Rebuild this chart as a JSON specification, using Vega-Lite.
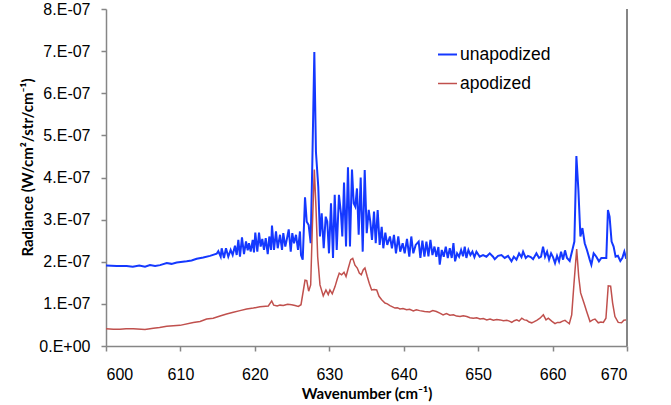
{
  "$schema": "https://vega.github.io/schema/vega-lite/v6.json",
  "autosize": {"type": "none"},
  "width": 521,
  "height": 337,
  "padding": {"left": 106, "top": 9, "right": 44, "bottom": 59},
  "background": "white",
  "config": {"view": {"stroke": null}, "font": "Liberation Sans"},
  "data": {"values": [
    {"w":600.00,"r":1.91e-7,"s":"unapodized"},{"w":601.44,"r":1.90e-7,"s":"unapodized"},{"w":602.78,"r":1.90e-7,"s":"unapodized"},{"w":603.60,"r":1.88e-7,"s":"unapodized"},{"w":604.47,"r":1.91e-7,"s":"unapodized"},{"w":605.24,"r":1.88e-7,"s":"unapodized"},{"w":605.91,"r":1.92e-7,"s":"unapodized"},{"w":606.60,"r":1.90e-7,"s":"unapodized"},{"w":607.26,"r":1.92e-7,"s":"unapodized"},{"w":608.16,"r":1.97e-7,"s":"unapodized"},{"w":608.80,"r":1.95e-7,"s":"unapodized"},{"w":609.50,"r":1.98e-7,"s":"unapodized"},{"w":610.84,"r":2.01e-7,"s":"unapodized"},{"w":611.50,"r":2.03e-7,"s":"unapodized"},{"w":612.19,"r":2.07e-7,"s":"unapodized"},{"w":613.07,"r":2.10e-7,"s":"unapodized"},{"w":613.97,"r":2.14e-7,"s":"unapodized"},{"w":614.87,"r":2.19e-7,"s":"unapodized"},{"w":615.09,"r":2.25e-7,"s":"unapodized"},{"w":615.41,"r":2.12e-7,"s":"unapodized"},{"w":615.54,"r":2.32e-7,"s":"unapodized"},{"w":615.85,"r":2.09e-7,"s":"unapodized"},{"w":616.12,"r":2.32e-7,"s":"unapodized"},{"w":616.43,"r":2.12e-7,"s":"unapodized"},{"w":616.75,"r":2.28e-7,"s":"unapodized"},{"w":617.02,"r":2.16e-7,"s":"unapodized"},{"w":617.33,"r":2.38e-7,"s":"unapodized"},{"w":617.56,"r":2.16e-7,"s":"unapodized"},{"w":617.78,"r":2.52e-7,"s":"unapodized"},{"w":618.00,"r":2.12e-7,"s":"unapodized"},{"w":618.27,"r":2.58e-7,"s":"unapodized"},{"w":618.54,"r":2.18e-7,"s":"unapodized"},{"w":618.81,"r":2.48e-7,"s":"unapodized"},{"w":619.04,"r":2.27e-7,"s":"unapodized"},{"w":619.21,"r":2.44e-7,"s":"unapodized"},{"w":619.44,"r":2.24e-7,"s":"unapodized"},{"w":619.71,"r":2.52e-7,"s":"unapodized"},{"w":619.88,"r":2.22e-7,"s":"unapodized"},{"w":620.06,"r":2.69e-7,"s":"unapodized"},{"w":620.33,"r":2.24e-7,"s":"unapodized"},{"w":620.56,"r":2.69e-7,"s":"unapodized"},{"w":620.78,"r":2.36e-7,"s":"unapodized"},{"w":621.00,"r":2.54e-7,"s":"unapodized"},{"w":621.23,"r":2.28e-7,"s":"unapodized"},{"w":621.46,"r":2.56e-7,"s":"unapodized"},{"w":621.73,"r":2.18e-7,"s":"unapodized"},{"w":621.94,"r":2.60e-7,"s":"unapodized"},{"w":622.17,"r":2.28e-7,"s":"unapodized"},{"w":622.30,"r":2.86e-7,"s":"unapodized"},{"w":622.57,"r":2.28e-7,"s":"unapodized"},{"w":622.84,"r":2.72e-7,"s":"unapodized"},{"w":623.07,"r":2.32e-7,"s":"unapodized"},{"w":623.38,"r":2.64e-7,"s":"unapodized"},{"w":623.65,"r":2.28e-7,"s":"unapodized"},{"w":623.82,"r":2.68e-7,"s":"unapodized"},{"w":624.09,"r":2.36e-7,"s":"unapodized"},{"w":624.28,"r":2.52e-7,"s":"unapodized"},{"w":624.55,"r":2.77e-7,"s":"unapodized"},{"w":624.82,"r":2.24e-7,"s":"unapodized"},{"w":625.03,"r":2.68e-7,"s":"unapodized"},{"w":625.26,"r":2.44e-7,"s":"unapodized"},{"w":625.53,"r":2.64e-7,"s":"unapodized"},{"w":625.80,"r":2.28e-7,"s":"unapodized"},{"w":626.06,"r":2.72e-7,"s":"unapodized"},{"w":626.20,"r":2.16e-7,"s":"unapodized"},{"w":626.43,"r":2.05e-7,"s":"unapodized"},{"w":626.74,"r":3.53e-7,"s":"unapodized"},{"w":626.97,"r":2.95e-7,"s":"unapodized"},{"w":627.23,"r":2.87e-7,"s":"unapodized"},{"w":627.50,"r":2.44e-7,"s":"unapodized"},{"w":627.72,"r":4.34e-7,"s":"unapodized"},{"w":627.99,"r":6.98e-7,"s":"unapodized"},{"w":628.21,"r":4.60e-7,"s":"unapodized"},{"w":628.52,"r":3.78e-7,"s":"unapodized"},{"w":628.75,"r":2.60e-7,"s":"unapodized"},{"w":628.98,"r":3.15e-7,"s":"unapodized"},{"w":629.25,"r":2.32e-7,"s":"unapodized"},{"w":629.52,"r":3.07e-7,"s":"unapodized"},{"w":629.73,"r":2.95e-7,"s":"unapodized"},{"w":629.96,"r":2.20e-7,"s":"unapodized"},{"w":630.23,"r":3.39e-7,"s":"unapodized"},{"w":630.50,"r":2.09e-7,"s":"unapodized"},{"w":630.73,"r":3.59e-7,"s":"unapodized"},{"w":631.00,"r":2.28e-7,"s":"unapodized"},{"w":631.30,"r":3.59e-7,"s":"unapodized"},{"w":631.57,"r":3.15e-7,"s":"unapodized"},{"w":631.75,"r":2.60e-7,"s":"unapodized"},{"w":631.98,"r":3.88e-7,"s":"unapodized"},{"w":632.25,"r":2.36e-7,"s":"unapodized"},{"w":632.51,"r":4.24e-7,"s":"unapodized"},{"w":632.78,"r":2.36e-7,"s":"unapodized"},{"w":633.05,"r":4.19e-7,"s":"unapodized"},{"w":633.28,"r":3.39e-7,"s":"unapodized"},{"w":633.49,"r":3.31e-7,"s":"unapodized"},{"w":633.72,"r":3.74e-7,"s":"unapodized"},{"w":633.95,"r":2.64e-7,"s":"unapodized"},{"w":634.22,"r":4.00e-7,"s":"unapodized"},{"w":634.49,"r":2.24e-7,"s":"unapodized"},{"w":634.76,"r":4.18e-7,"s":"unapodized"},{"w":635.03,"r":2.68e-7,"s":"unapodized"},{"w":635.30,"r":3.23e-7,"s":"unapodized"},{"w":635.51,"r":2.95e-7,"s":"unapodized"},{"w":635.74,"r":2.52e-7,"s":"unapodized"},{"w":636.01,"r":3.19e-7,"s":"unapodized"},{"w":636.24,"r":2.44e-7,"s":"unapodized"},{"w":636.50,"r":3.23e-7,"s":"unapodized"},{"w":636.77,"r":2.40e-7,"s":"unapodized"},{"w":637.04,"r":2.83e-7,"s":"unapodized"},{"w":637.26,"r":2.32e-7,"s":"unapodized"},{"w":637.53,"r":2.69e-7,"s":"unapodized"},{"w":637.79,"r":2.40e-7,"s":"unapodized"},{"w":638.15,"r":2.60e-7,"s":"unapodized"},{"w":638.42,"r":2.32e-7,"s":"unapodized"},{"w":638.69,"r":2.64e-7,"s":"unapodized"},{"w":638.96,"r":2.20e-7,"s":"unapodized"},{"w":639.27,"r":2.60e-7,"s":"unapodized"},{"w":639.53,"r":2.24e-7,"s":"unapodized"},{"w":639.86,"r":2.44e-7,"s":"unapodized"},{"w":640.13,"r":2.20e-7,"s":"unapodized"},{"w":640.44,"r":2.54e-7,"s":"unapodized"},{"w":640.75,"r":2.12e-7,"s":"unapodized"},{"w":641.02,"r":2.60e-7,"s":"unapodized"},{"w":641.29,"r":2.20e-7,"s":"unapodized"},{"w":641.61,"r":2.40e-7,"s":"unapodized"},{"w":642.01,"r":2.48e-7,"s":"unapodized"},{"w":642.24,"r":2.09e-7,"s":"unapodized"},{"w":642.51,"r":2.50e-7,"s":"unapodized"},{"w":642.78,"r":2.12e-7,"s":"unapodized"},{"w":643.05,"r":2.48e-7,"s":"unapodized"},{"w":643.32,"r":2.13e-7,"s":"unapodized"},{"w":643.59,"r":2.52e-7,"s":"unapodized"},{"w":643.86,"r":2.16e-7,"s":"unapodized"},{"w":644.13,"r":2.36e-7,"s":"unapodized"},{"w":644.39,"r":2.12e-7,"s":"unapodized"},{"w":644.66,"r":2.35e-7,"s":"unapodized"},{"w":644.84,"r":1.93e-7,"s":"unapodized"},{"w":645.11,"r":2.28e-7,"s":"unapodized"},{"w":645.38,"r":2.12e-7,"s":"unapodized"},{"w":645.65,"r":2.36e-7,"s":"unapodized"},{"w":645.92,"r":2.09e-7,"s":"unapodized"},{"w":646.19,"r":2.32e-7,"s":"unapodized"},{"w":646.45,"r":2.09e-7,"s":"unapodized"},{"w":646.68,"r":2.44e-7,"s":"unapodized"},{"w":646.90,"r":2.01e-7,"s":"unapodized"},{"w":647.17,"r":2.20e-7,"s":"unapodized"},{"w":647.44,"r":2.12e-7,"s":"unapodized"},{"w":647.71,"r":2.28e-7,"s":"unapodized"},{"w":647.97,"r":2.13e-7,"s":"unapodized"},{"w":648.20,"r":2.36e-7,"s":"unapodized"},{"w":648.42,"r":2.09e-7,"s":"unapodized"},{"w":648.69,"r":2.28e-7,"s":"unapodized"},{"w":648.96,"r":2.16e-7,"s":"unapodized"},{"w":649.23,"r":2.24e-7,"s":"unapodized"},{"w":649.50,"r":2.11e-7,"s":"unapodized"},{"w":649.77,"r":2.24e-7,"s":"unapodized"},{"w":650.21,"r":2.12e-7,"s":"unapodized"},{"w":650.66,"r":2.16e-7,"s":"unapodized"},{"w":651.11,"r":2.12e-7,"s":"unapodized"},{"w":651.56,"r":2.20e-7,"s":"unapodized"},{"w":652.00,"r":2.12e-7,"s":"unapodized"},{"w":652.23,"r":2.06e-7,"s":"unapodized"},{"w":652.68,"r":2.14e-7,"s":"unapodized"},{"w":653.13,"r":2.16e-7,"s":"unapodized"},{"w":653.57,"r":2.09e-7,"s":"unapodized"},{"w":654.02,"r":2.14e-7,"s":"unapodized"},{"w":654.48,"r":2.01e-7,"s":"unapodized"},{"w":654.79,"r":2.12e-7,"s":"unapodized"},{"w":655.15,"r":2.05e-7,"s":"unapodized"},{"w":655.50,"r":2.20e-7,"s":"unapodized"},{"w":655.82,"r":2.11e-7,"s":"unapodized"},{"w":656.04,"r":2.24e-7,"s":"unapodized"},{"w":656.40,"r":2.09e-7,"s":"unapodized"},{"w":656.70,"r":2.14e-7,"s":"unapodized"},{"w":657.07,"r":2.11e-7,"s":"unapodized"},{"w":657.38,"r":2.06e-7,"s":"unapodized"},{"w":657.83,"r":2.20e-7,"s":"unapodized"},{"w":658.18,"r":2.09e-7,"s":"unapodized"},{"w":658.45,"r":2.12e-7,"s":"unapodized"},{"w":658.72,"r":2.36e-7,"s":"unapodized"},{"w":658.99,"r":2.12e-7,"s":"unapodized"},{"w":659.26,"r":2.24e-7,"s":"unapodized"},{"w":659.53,"r":2.05e-7,"s":"unapodized"},{"w":659.80,"r":2.20e-7,"s":"unapodized"},{"w":660.06,"r":2.11e-7,"s":"unapodized"},{"w":660.33,"r":1.97e-7,"s":"unapodized"},{"w":660.60,"r":2.14e-7,"s":"unapodized"},{"w":660.87,"r":2.01e-7,"s":"unapodized"},{"w":661.14,"r":2.24e-7,"s":"unapodized"},{"w":661.41,"r":2.05e-7,"s":"unapodized"},{"w":661.67,"r":2.27e-7,"s":"unapodized"},{"w":661.94,"r":2.09e-7,"s":"unapodized"},{"w":662.30,"r":2.02e-7,"s":"unapodized"},{"w":662.66,"r":2.28e-7,"s":"unapodized"},{"w":662.93,"r":2.48e-7,"s":"unapodized"},{"w":663.20,"r":4.51e-7,"s":"unapodized"},{"w":663.47,"r":3.70e-7,"s":"unapodized"},{"w":663.74,"r":2.60e-7,"s":"unapodized"},{"w":664.01,"r":2.80e-7,"s":"unapodized"},{"w":664.32,"r":2.44e-7,"s":"unapodized"},{"w":664.62,"r":2.28e-7,"s":"unapodized"},{"w":664.99,"r":2.05e-7,"s":"unapodized"},{"w":665.21,"r":1.93e-7,"s":"unapodized"},{"w":665.52,"r":2.20e-7,"s":"unapodized"},{"w":665.88,"r":2.12e-7,"s":"unapodized"},{"w":666.23,"r":2.01e-7,"s":"unapodized"},{"w":666.55,"r":2.09e-7,"s":"unapodized"},{"w":666.99,"r":2.09e-7,"s":"unapodized"},{"w":667.22,"r":2.09e-7,"s":"unapodized"},{"w":667.44,"r":3.23e-7,"s":"unapodized"},{"w":667.66,"r":3.07e-7,"s":"unapodized"},{"w":667.93,"r":2.48e-7,"s":"unapodized"},{"w":668.20,"r":2.36e-7,"s":"unapodized"},{"w":668.47,"r":2.12e-7,"s":"unapodized"},{"w":668.78,"r":2.14e-7,"s":"unapodized"},{"w":669.10,"r":2.02e-7,"s":"unapodized"},{"w":669.37,"r":2.09e-7,"s":"unapodized"},{"w":669.64,"r":2.24e-7,"s":"unapodized"},{"w":669.87,"r":2.09e-7,"s":"unapodized"},{"w":670.00,"r":2.09e-7,"s":"unapodized"},
    {"w":600.00,"r":0.41e-7,"s":"apodized"},{"w":601.00,"r":0.40e-7,"s":"apodized"},{"w":601.88,"r":0.40e-7,"s":"apodized"},{"w":602.70,"r":0.41e-7,"s":"apodized"},{"w":603.67,"r":0.41e-7,"s":"apodized"},{"w":605.24,"r":0.39e-7,"s":"apodized"},{"w":606.36,"r":0.42e-7,"s":"apodized"},{"w":607.20,"r":0.44e-7,"s":"apodized"},{"w":608.16,"r":0.47e-7,"s":"apodized"},{"w":609.94,"r":0.49e-7,"s":"apodized"},{"w":611.73,"r":0.56e-7,"s":"apodized"},{"w":612.64,"r":0.58e-7,"s":"apodized"},{"w":613.52,"r":0.64e-7,"s":"apodized"},{"w":614.40,"r":0.66e-7,"s":"apodized"},{"w":615.32,"r":0.71e-7,"s":"apodized"},{"w":616.20,"r":0.76e-7,"s":"apodized"},{"w":617.11,"r":0.80e-7,"s":"apodized"},{"w":618.00,"r":0.84e-7,"s":"apodized"},{"w":618.90,"r":0.88e-7,"s":"apodized"},{"w":619.80,"r":0.90e-7,"s":"apodized"},{"w":620.69,"r":0.93e-7,"s":"apodized"},{"w":621.81,"r":0.95e-7,"s":"apodized"},{"w":622.26,"r":1.07e-7,"s":"apodized"},{"w":622.53,"r":0.97e-7,"s":"apodized"},{"w":623.00,"r":0.95e-7,"s":"apodized"},{"w":623.38,"r":0.97e-7,"s":"apodized"},{"w":623.82,"r":0.96e-7,"s":"apodized"},{"w":624.40,"r":0.99e-7,"s":"apodized"},{"w":624.95,"r":0.98e-7,"s":"apodized"},{"w":625.40,"r":0.96e-7,"s":"apodized"},{"w":625.84,"r":0.94e-7,"s":"apodized"},{"w":626.20,"r":0.98e-7,"s":"apodized"},{"w":626.74,"r":1.56e-7,"s":"apodized"},{"w":626.97,"r":1.55e-7,"s":"apodized"},{"w":627.23,"r":1.30e-7,"s":"apodized"},{"w":627.50,"r":1.45e-7,"s":"apodized"},{"w":627.72,"r":2.80e-7,"s":"apodized"},{"w":627.99,"r":4.19e-7,"s":"apodized"},{"w":628.21,"r":3.30e-7,"s":"apodized"},{"w":628.44,"r":2.12e-7,"s":"apodized"},{"w":628.75,"r":1.45e-7,"s":"apodized"},{"w":629.19,"r":1.19e-7,"s":"apodized"},{"w":629.55,"r":1.33e-7,"s":"apodized"},{"w":629.86,"r":1.22e-7,"s":"apodized"},{"w":630.09,"r":1.33e-7,"s":"apodized"},{"w":630.40,"r":1.24e-7,"s":"apodized"},{"w":630.77,"r":1.41e-7,"s":"apodized"},{"w":631.07,"r":1.59e-7,"s":"apodized"},{"w":631.34,"r":1.73e-7,"s":"apodized"},{"w":631.66,"r":1.69e-7,"s":"apodized"},{"w":631.98,"r":1.75e-7,"s":"apodized"},{"w":632.25,"r":1.65e-7,"s":"apodized"},{"w":632.56,"r":1.85e-7,"s":"apodized"},{"w":632.88,"r":2.05e-7,"s":"apodized"},{"w":633.15,"r":2.08e-7,"s":"apodized"},{"w":633.45,"r":1.92e-7,"s":"apodized"},{"w":633.76,"r":1.85e-7,"s":"apodized"},{"w":634.03,"r":1.73e-7,"s":"apodized"},{"w":634.30,"r":1.69e-7,"s":"apodized"},{"w":634.57,"r":1.81e-7,"s":"apodized"},{"w":634.79,"r":1.85e-7,"s":"apodized"},{"w":635.10,"r":1.65e-7,"s":"apodized"},{"w":635.37,"r":1.49e-7,"s":"apodized"},{"w":635.69,"r":1.33e-7,"s":"apodized"},{"w":636.01,"r":1.34e-7,"s":"apodized"},{"w":636.37,"r":1.33e-7,"s":"apodized"},{"w":636.68,"r":1.18e-7,"s":"apodized"},{"w":637.04,"r":1.10e-7,"s":"apodized"},{"w":637.48,"r":1.02e-7,"s":"apodized"},{"w":637.80,"r":1.00e-7,"s":"apodized"},{"w":638.15,"r":0.96e-7,"s":"apodized"},{"w":638.50,"r":0.93e-7,"s":"apodized"},{"w":638.82,"r":0.90e-7,"s":"apodized"},{"w":639.15,"r":0.91e-7,"s":"apodized"},{"w":639.49,"r":0.88e-7,"s":"apodized"},{"w":639.90,"r":0.89e-7,"s":"apodized"},{"w":640.39,"r":0.86e-7,"s":"apodized"},{"w":640.80,"r":0.87e-7,"s":"apodized"},{"w":641.29,"r":0.83e-7,"s":"apodized"},{"w":641.70,"r":0.86e-7,"s":"apodized"},{"w":642.15,"r":0.84e-7,"s":"apodized"},{"w":642.80,"r":0.82e-7,"s":"apodized"},{"w":643.49,"r":0.81e-7,"s":"apodized"},{"w":643.90,"r":0.84e-7,"s":"apodized"},{"w":644.39,"r":0.82e-7,"s":"apodized"},{"w":644.85,"r":0.78e-7,"s":"apodized"},{"w":645.29,"r":0.74e-7,"s":"apodized"},{"w":645.74,"r":0.77e-7,"s":"apodized"},{"w":646.20,"r":0.73e-7,"s":"apodized"},{"w":646.68,"r":0.74e-7,"s":"apodized"},{"w":647.10,"r":0.71e-7,"s":"apodized"},{"w":647.57,"r":0.70e-7,"s":"apodized"},{"w":648.00,"r":0.72e-7,"s":"apodized"},{"w":648.47,"r":0.70e-7,"s":"apodized"},{"w":648.90,"r":0.67e-7,"s":"apodized"},{"w":649.36,"r":0.66e-7,"s":"apodized"},{"w":649.80,"r":0.67e-7,"s":"apodized"},{"w":650.26,"r":0.64e-7,"s":"apodized"},{"w":650.70,"r":0.65e-7,"s":"apodized"},{"w":651.16,"r":0.62e-7,"s":"apodized"},{"w":651.60,"r":0.64e-7,"s":"apodized"},{"w":652.05,"r":0.61e-7,"s":"apodized"},{"w":652.50,"r":0.63e-7,"s":"apodized"},{"w":652.95,"r":0.62e-7,"s":"apodized"},{"w":653.40,"r":0.60e-7,"s":"apodized"},{"w":653.85,"r":0.61e-7,"s":"apodized"},{"w":654.20,"r":0.59e-7,"s":"apodized"},{"w":654.52,"r":0.56e-7,"s":"apodized"},{"w":654.85,"r":0.60e-7,"s":"apodized"},{"w":655.19,"r":0.62e-7,"s":"apodized"},{"w":655.50,"r":0.59e-7,"s":"apodized"},{"w":655.86,"r":0.66e-7,"s":"apodized"},{"w":656.20,"r":0.62e-7,"s":"apodized"},{"w":656.53,"r":0.61e-7,"s":"apodized"},{"w":656.85,"r":0.57e-7,"s":"apodized"},{"w":657.20,"r":0.55e-7,"s":"apodized"},{"w":657.55,"r":0.58e-7,"s":"apodized"},{"w":657.87,"r":0.61e-7,"s":"apodized"},{"w":658.31,"r":0.66e-7,"s":"apodized"},{"w":658.76,"r":0.74e-7,"s":"apodized"},{"w":659.12,"r":0.62e-7,"s":"apodized"},{"w":659.43,"r":0.66e-7,"s":"apodized"},{"w":659.88,"r":0.59e-7,"s":"apodized"},{"w":660.33,"r":0.53e-7,"s":"apodized"},{"w":660.65,"r":0.56e-7,"s":"apodized"},{"w":661.00,"r":0.56e-7,"s":"apodized"},{"w":661.35,"r":0.59e-7,"s":"apodized"},{"w":661.67,"r":0.61e-7,"s":"apodized"},{"w":661.95,"r":0.57e-7,"s":"apodized"},{"w":662.25,"r":0.53e-7,"s":"apodized"},{"w":662.57,"r":0.74e-7,"s":"apodized"},{"w":662.88,"r":1.49e-7,"s":"apodized"},{"w":663.24,"r":2.30e-7,"s":"apodized"},{"w":663.51,"r":1.65e-7,"s":"apodized"},{"w":663.77,"r":1.26e-7,"s":"apodized"},{"w":664.22,"r":1.02e-7,"s":"apodized"},{"w":664.58,"r":0.82e-7,"s":"apodized"},{"w":665.03,"r":0.58e-7,"s":"apodized"},{"w":665.39,"r":0.62e-7,"s":"apodized"},{"w":665.70,"r":0.64e-7,"s":"apodized"},{"w":666.14,"r":0.55e-7,"s":"apodized"},{"w":666.50,"r":0.57e-7,"s":"apodized"},{"w":666.82,"r":0.56e-7,"s":"apodized"},{"w":667.17,"r":0.66e-7,"s":"apodized"},{"w":667.48,"r":1.43e-7,"s":"apodized"},{"w":667.80,"r":1.42e-7,"s":"apodized"},{"w":668.07,"r":1.02e-7,"s":"apodized"},{"w":668.38,"r":0.70e-7,"s":"apodized"},{"w":668.82,"r":0.56e-7,"s":"apodized"},{"w":669.27,"r":0.55e-7,"s":"apodized"},{"w":669.58,"r":0.61e-7,"s":"apodized"},{"w":669.87,"r":0.62e-7,"s":"apodized"},{"w":670.00,"r":0.62e-7,"s":"apodized"}
  ]},
  "layer": [
    {
      "mark": {"type": "line", "clip": true},
      "encoding": {
        "x": {"field": "w", "type": "quantitative",
          "scale": {"domain": [600, 670], "nice": false, "zero": false},
          "axis": {"values": [600, 610, 620, 630, 640, 650, 660, 670], "title": "Wavenumber (cm⁻¹)", "grid": false,
            "domainColor": "#868686", "domainWidth": 1.5, "tickColor": "#868686", "tickWidth": 1.5, "tickSize": 5,
            "labelFont": "Liberation Sans", "labelFontSize": 16, "labelColor": "#000000", "labelPadding": 15,
            "titleFont": "Lato", "titleFontWeight": "bold", "titleFontSize": 15, "titleColor": "#000000",
            "titleY": 47, "titleBaseline": "middle"}},
        "y": {"field": "r", "type": "quantitative",
          "scale": {"domain": [0, 8e-7], "nice": false},
          "axis": {"values": [0, 1e-7, 2e-7, 3e-7, 4e-7, 5e-7, 6e-7, 7e-7, 8e-7], "title": "Radiance (W/cm²/str/cm⁻¹)", "grid": false,
            "labelExpr": "datum.value == 0 ? '0.E+00' : round(datum.value*1e7) + '.E-07'",
            "domainColor": "#868686", "domainWidth": 1.5, "tickColor": "#868686", "tickWidth": 1.5, "tickSize": 5,
            "labelFont": "Liberation Sans", "labelFontSize": 16, "labelColor": "#000000", "labelPadding": 11,
            "titleFont": "Lato", "titleFontWeight": "bold", "titleFontSize": 15, "titleColor": "#000000",
            "titleX": -79, "titleY": 158, "titleBaseline": "middle", "titleAlign": "center", "titleAngle": -90}},
        "color": {"field": "s", "type": "nominal",
          "scale": {"domain": ["unapodized", "apodized"], "range": ["#1438ff", "#c0504d"]},
          "legend": {"title": null, "orient": "none", "legendX": 331, "legendY": 35,
            "symbolType": "stroke", "symbolSize": 361, "symbolStrokeWidth": 2,
            "labelFont": "Liberation Sans", "labelFontSize": 17.5, "labelColor": "#000000", "labelOffset": 2, "rowPadding": 10}},
        "strokeWidth": {"field": "s", "type": "nominal",
          "scale": {"domain": ["unapodized", "apodized"], "range": [2, 1.5]}, "legend": null},
        "order": {"field": "w", "type": "quantitative"}
      }
    },
    {
      "mark": {"type": "rule", "color": "#868686", "strokeWidth": 1.5},
      "encoding": {"x": {"datum": 670}}
    }
  ]
}
